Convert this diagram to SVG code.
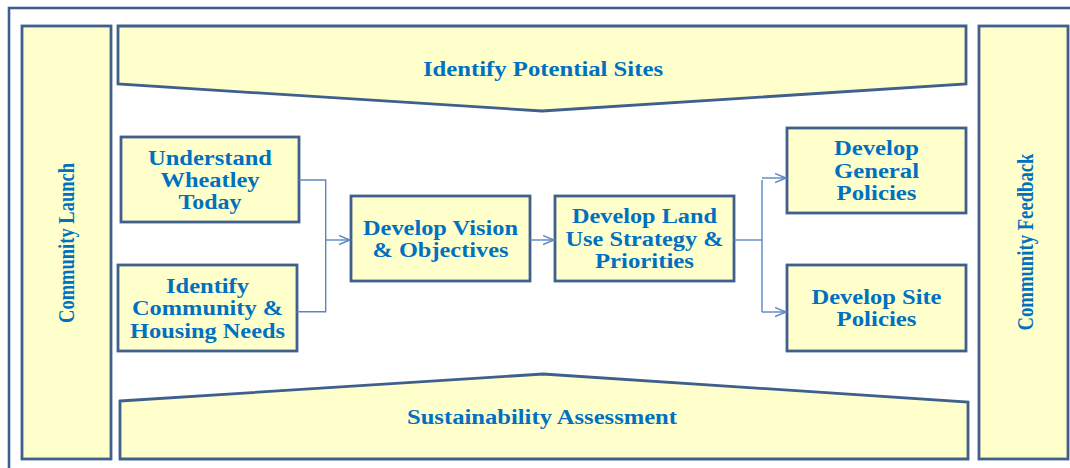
<svg xmlns="http://www.w3.org/2000/svg" width="1070" height="468" viewBox="0 0 1070 468">
<style>
.box{fill:#ffffcc;stroke:#3f5f8c;stroke-width:2.8}
.frame{fill:none;stroke:#3f5f8c;stroke-width:2.6}
.t{font-family:"Liberation Serif","Times New Roman",serif;font-weight:bold;font-size:20px;fill:#0070c0;text-anchor:middle}
.v{font-family:"Liberation Serif","Times New Roman",serif;font-weight:bold;font-size:19px;fill:#0070c0;text-anchor:middle}
.c{fill:none;stroke:#5b86c0;stroke-width:1.4}
</style>
<defs>
<marker id="ah" markerWidth="14" markerHeight="12" refX="11" refY="5" orient="auto" markerUnits="userSpaceOnUse">
<path d="M0,0.5 L11,5 L0,9.5" fill="none" stroke="#5b86c0" stroke-width="1.4"/>
</marker>
</defs>
<rect width="1070" height="468" fill="#ffffff"/>
<rect class="frame" x="9" y="8" width="1090" height="480"/>

<g id="community-launch">
<rect class="box" x="22" y="26" width="89" height="433"/>
<text class="v" transform="translate(74,243) rotate(-90) scale(1,1.2)" textLength="160" lengthAdjust="spacingAndGlyphs">Community Launch</text>
</g>
<g id="community-feedback">
<rect class="box" x="979" y="26" width="89" height="433"/>
<text class="v" transform="translate(1033,242) rotate(-90) scale(1,1.2)" textLength="177" lengthAdjust="spacingAndGlyphs">Community Feedback</text>
</g>
<g id="identify-sites">
<polygon class="box" points="118,26 966,26 966,84 542,111 118,84"/>
<text class="t" x="543" y="76" textLength="240" lengthAdjust="spacingAndGlyphs">Identify Potential Sites</text>
</g>
<g id="sustainability">
<polygon class="box" points="120,401 543,374 968,402 968,459 120,459"/>
<text class="t" x="542" y="423.5" textLength="270" lengthAdjust="spacingAndGlyphs">Sustainability Assessment</text>
</g>

<g id="understand">
<rect class="box" x="121" y="137" width="178" height="85"/>
<text class="t" x="210" y="164.5" textLength="124" lengthAdjust="spacingAndGlyphs">Understand</text>
<text class="t" x="210" y="186.5" textLength="99" lengthAdjust="spacingAndGlyphs">Wheatley</text>
<text class="t" x="210" y="208.5" textLength="63" lengthAdjust="spacingAndGlyphs">Today</text>
</g>
<g id="identify-needs">
<rect class="box" x="118" y="265" width="179" height="86"/>
<text class="t" x="207.5" y="292.5" textLength="83" lengthAdjust="spacingAndGlyphs">Identify</text>
<text class="t" x="207.5" y="315" textLength="151" lengthAdjust="spacingAndGlyphs">Community &amp;</text>
<text class="t" x="207.5" y="337.5" textLength="155" lengthAdjust="spacingAndGlyphs">Housing Needs</text>
</g>
<g id="vision">
<rect class="box" x="351" y="196" width="179" height="85"/>
<text class="t" x="440.5" y="234.5" textLength="155" lengthAdjust="spacingAndGlyphs">Develop Vision</text>
<text class="t" x="440.5" y="256.7" textLength="136" lengthAdjust="spacingAndGlyphs">&amp; Objectives</text>
</g>
<g id="land-use">
<rect class="box" x="555" y="196" width="179" height="85"/>
<text class="t" x="644.5" y="222.7" textLength="145" lengthAdjust="spacingAndGlyphs">Develop Land</text>
<text class="t" x="644.5" y="245.5" textLength="158" lengthAdjust="spacingAndGlyphs">Use Strategy &amp;</text>
<text class="t" x="644.5" y="268" textLength="99" lengthAdjust="spacingAndGlyphs">Priorities</text>
</g>
<g id="general-policies">
<rect class="box" x="787" y="128" width="179" height="85"/>
<text class="t" x="876.5" y="155.3" textLength="85" lengthAdjust="spacingAndGlyphs">Develop</text>
<text class="t" x="876.5" y="178" textLength="85" lengthAdjust="spacingAndGlyphs">General</text>
<text class="t" x="876.5" y="199.5" textLength="80" lengthAdjust="spacingAndGlyphs">Policies</text>
</g>
<g id="site-policies">
<rect class="box" x="787" y="265" width="179" height="86"/>
<text class="t" x="876.5" y="304" textLength="130" lengthAdjust="spacingAndGlyphs">Develop Site</text>
<text class="t" x="876.5" y="325.7" textLength="80" lengthAdjust="spacingAndGlyphs">Policies</text>
</g>

<g id="connectors">
<path class="c" d="M299,180 H325.7 V311.7 H297"/>
<path class="c" d="M325.7,240 H350" marker-end="url(#ah)"/>
<path class="c" d="M530,240 H554" marker-end="url(#ah)"/>
<path class="c" d="M734,240 H762"/>
<path class="c" d="M762,180 V312"/>
<path class="c" d="M762,178 H786" marker-end="url(#ah)"/>
<path class="c" d="M762,312 H786" marker-end="url(#ah)"/>
</g>
</svg>
